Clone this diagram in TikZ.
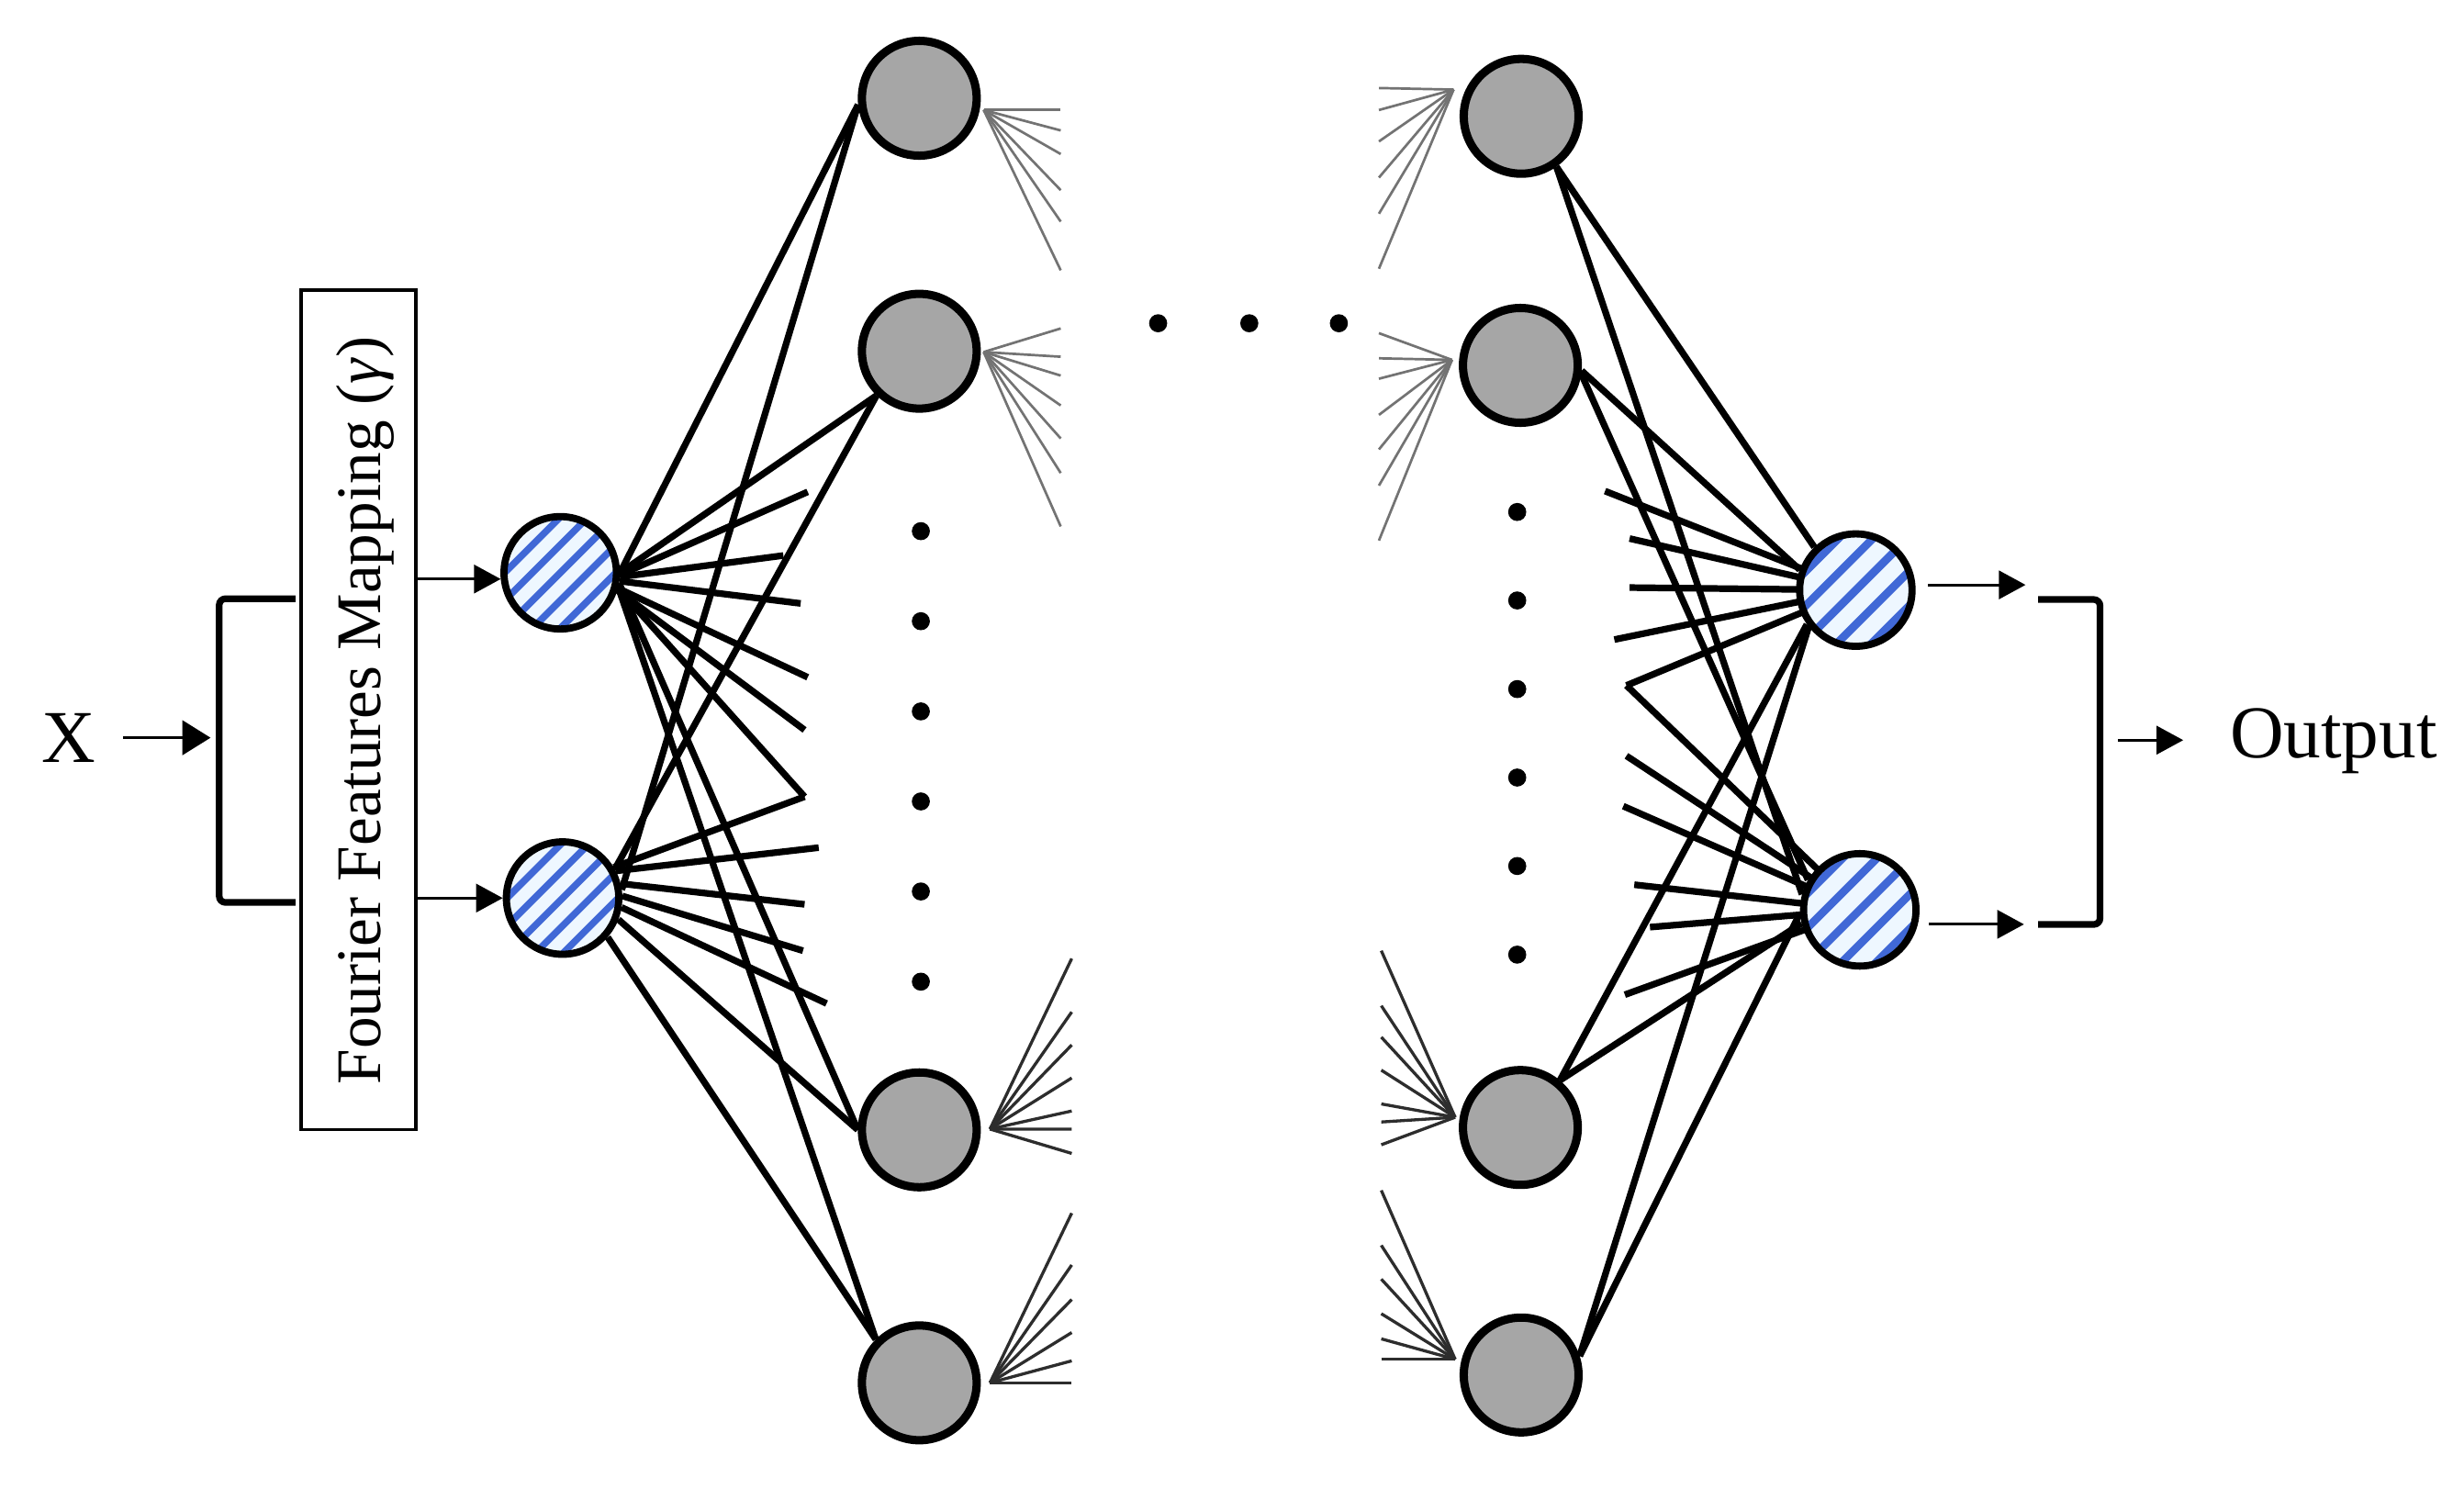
\documentclass[tikz,border=0pt]{standalone}
\usepackage{fontspec}
\setmainfont{Liberation Serif}
\usetikzlibrary{arrows.meta}
\pgfdeclarelayer{bg}
\pgfsetlayers{bg,main}
\definecolor{nodegray}{RGB}{166,166,166}
\definecolor{hatchblue}{RGB}{64,104,214}
\definecolor{hatchbg}{RGB}{238,247,255}
\definecolor{fanltc}{RGB}{115,115,115}
\definecolor{fandkc}{RGB}{45,45,45}
\tikzset{
  graynode/.style={circle, draw=black, line width=1.5pt, fill=nodegray, minimum size=0.73cm, inner sep=0pt},
  hatchnode/.style 2 args={circle, draw=black, line width=1.3pt, fill=hatchbg, minimum size=0.715cm, inner sep=0pt,
    path picture={
      \foreach \k in {-7,...,7}{
        \draw[hatchblue, line width=#2]
          ([shift={({\k*#1*0.7071-0.6cm},{-\k*#1*0.7071-0.6cm})}]path picture bounding box.center) --
          ([shift={({\k*#1*0.7071+0.6cm},{-\k*#1*0.7071+0.6cm})}]path picture bounding box.center);
      }
    }},
  hatchin/.style={hatchnode={0.125cm}{1.25pt}},
  hatchout/.style={hatchnode={0.155cm}{1.45pt}},
  dotnode/.style={circle, fill=black, minimum size=0.115cm, inner sep=0pt},
  conn/.style={line width=1.2pt, black},
  fanlight/.style={line width=0.45pt, fanltc},
  fandark/.style={line width=0.55pt, fandkc},
  arr/.style={line width=0.5pt, black, -{Triangle[length=0.17cm, width=0.18cm]}},
  bracket/.style={line width=1.2pt, black, rounded corners=0.04cm},
  bigtext/.style={font=\fontsize{13.5}{16}\selectfont},
}
\begin{document}
\begin{tikzpicture}[x=0.01cm, y=-0.01cm]
\useasboundingbox (0,0) rectangle (1568,947);

% ---- neurons ----
\node[hatchin] (in1) at (356.5,364.5) {};
\node[hatchin] (in2) at (358,571.5) {};
\node[graynode] (L1) at (585,62.5) {};
\node[graynode] (L2) at (585,223.5) {};
\node[graynode] (L3) at (585,719) {};
\node[graynode] (L4) at (585,880) {};
\node[graynode] (R1) at (968,74) {};
\node[graynode] (R2) at (967.5,232.5) {};
\node[graynode] (R3) at (967.5,717.5) {};
\node[graynode] (R4) at (968,875) {};
\node[hatchout] (o1) at (1181,375.5) {};
\node[hatchout] (o2) at (1183.5,579) {};

% ---- dots ----
\foreach \yy [count=\i] in {338,395.3,452.7,510,567.3,624.7} \node[dotnode] (dl\i) at (586,\yy) {};
\foreach \yy [count=\i] in {325.8,382.1,438.5,494.8,551.1,607.5} \node[dotnode] (dr\i) at (965.5,\yy) {};
\foreach \xx [count=\i] in {737,795,852} \node[dotnode] (dh\i) at (\xx,205.7) {};

% ---- Fourier box ----
\node[draw, line width=0.6pt, minimum width=0.73cm, minimum height=5.34cm, inner sep=0pt] (box) at (228.2,451.6) {};
\node[rotate=90, anchor=base, font=\fontsize{11.5}{13}\selectfont, inner sep=0pt] (boxtext) at (242,452) {Fourier Features Mapping (\textit{γ})};

% ---- input X ----
\node[bigtext, anchor=base, inner xsep=0.17cm, inner ysep=0pt] (X) at (43.6,485) {X};
\coordinate (lbm) at (134,468.5);
\draw[arr, -{Triangle[length=0.18cm, width=0.22cm]}] (X.east) -- (X.east -| lbm);
\draw[bracket] (188,381) -- (139.5,381) -- (139.5,574.3) -- (188,574.3);
\draw[arr] (box.east |- in1.186) -- (in1.186);
\draw[arr] (box.east |- in2.west) -- (in2.west);

% ---- output ----
\coordinate (ob) at (1281,372);
\draw[arr] ([xshift=0.08cm]o1.5) -- ([xshift=0.08cm]o1.5 -| ob);
\draw[arr] ([xshift=0.07cm]o2.-14) -- ([xshift=0.07cm]o2.-14 -| ob);
\draw[bracket] (1297,381.5) -- (1336.4,381.5) -- (1336.4,588.3) -- (1297,588.3);
\node[bigtext, anchor=base, inner xsep=0.29cm, inner ysep=0pt] (out) at (1485,482.5) {Output};
\coordinate (rbm) at (1348,471);
\draw[arr] (rbm) -- (rbm -| out.west);

% ---- connectors ----
\begin{pgfonlayer}{bg}
\coordinate (sa) at (514,313);
\coordinate (sb) at (498.5,353.5);
\coordinate (sc) at (509.5,384);
\coordinate (sd) at (514,431);
\coordinate (se) at (512,464.5);
\coordinate (sf) at (512,507);
\coordinate (sg) at (521,539.4);
\coordinate (sh) at (512,575.5);
\coordinate (si) at (511,605);
\coordinate (sj) at (526,638.6);
\draw[conn] (in1.0) -- (L1.186);
\draw[conn] (in1.0) -- (L2.226);
\draw[conn] (in1.-2) -- (sa);
\draw[conn] (in1.-4) -- (sb);
\draw[conn] (in1.-8) -- (sc);
\draw[conn] (in1.-15) -- (sd);
\draw[conn] (in1.-17) -- (se);
\draw[conn] (in1.-15) -- (sf);
\draw[conn] (in1.-10) -- (L3.180);
\draw[conn] (in1.-14) -- (L4.135);
\draw[conn] (in2.8) -- (L1.186);
\draw[conn] (in2.29) -- (L2.226);
\draw[conn] (in2.31) -- (sf);
\draw[conn] (in2.27) -- (sg);
\draw[conn] (in2.14) -- (sh);
\draw[conn] (in2.2) -- (si);
\draw[conn] (in2.-9) -- (sj);
\draw[conn] (in2.-21) -- (L3.180);
\draw[conn] (in2.-41) -- (L4.135);

\coordinate (ta) at (1021.4,312.5);
\coordinate (tb) at (1037,342.7);
\coordinate (tc) at (1037,373.9);
\coordinate (td) at (1027.3,407);
\coordinate (tv) at (1035,436.2);
\coordinate (te) at (1035,481);
\coordinate (tf) at (1033,513);
\coordinate (tg) at (1040,563);
\coordinate (th) at (1050,590);
\coordinate (ti) at (1034,633);
\foreach \c in {ta,tb,tc,td,tv} \draw[conn] (\c) -- (o1.center);
\foreach \c in {tv,te,tf,tg,th,ti} \draw[conn] (\c) -- (o2.center);
\draw[conn] (R1.-55) -- (o1.134);
\draw[conn] (R1.-55) -- (o2.165);
\draw[conn] (R2.-5) -- (o1.160);
\draw[conn] (R2.-8) -- (o2.150);
\draw[conn] (R3.50) -- (o1.215);
\draw[conn] (R3.50) -- (o2.193);
\draw[conn] (R4.18) -- (o1.218);
\draw[conn] (R4.18) -- (o2.183);
\end{pgfonlayer}

% ---- fans ----
\coordinate (L1a) at ([shift={(41,7.5)}]L1.center);
\coordinate (L2a) at ([shift={(41,0.5)}]L2.center);
\coordinate (L3a) at ([shift={(45,-0.5)}]L3.center);
\coordinate (L4a) at ([shift={(45,0)}]L4.center);
\coordinate (R1a) at ([shift={(-43,-17)}]R1.center);
\coordinate (R2a) at ([shift={(-43.5,-3.5)}]R2.center);
\coordinate (R3a) at ([shift={(-41.5,-6.5)}]R3.center);
\coordinate (R4a) at ([shift={(-42,-10)}]R4.center);
\foreach \yy [count=\i] in {70,83,98,121,141,172}{\coordinate (fa\i) at (675,\yy); \draw[fanlight] (L1a) -- (fa\i);}
\foreach \yy [count=\i] in {209,227,239,258,279,301,335}{\coordinate (fb\i) at (675,\yy); \draw[fanlight] (L2a) -- (fb\i);}
\foreach \yy [count=\i] in {610,644,665,686,707,718.6,734}{\coordinate (fc\i) at (682,\yy); \draw[fandark] (L3a) -- (fc\i);}
\foreach \yy [count=\i] in {772,805,827,848,866,880}{\coordinate (fd\i) at (682,\yy); \draw[fandark] (L4a) -- (fd\i);}
\foreach \yy [count=\i] in {56,70,90,113,136,171}{\coordinate (fe\i) at (877.5,\yy); \draw[fanlight] (fe\i) -- (R1a);}
\foreach \yy [count=\i] in {212,228,241,264,286,309,344}{\coordinate (ff\i) at (877.5,\yy); \draw[fanlight] (ff\i) -- (R2a);}
\foreach \yy [count=\i] in {605,640,660,681,702.5,714,728.5}{\coordinate (fg\i) at (879,\yy); \draw[fandark] (fg\i) -- (R3a);}
\foreach \yy [count=\i] in {757.5,792.5,814,836,852,865}{\coordinate (fh\i) at (879,\yy); \draw[fandark] (fh\i) -- (R4a);}
\end{tikzpicture}
\end{document}
